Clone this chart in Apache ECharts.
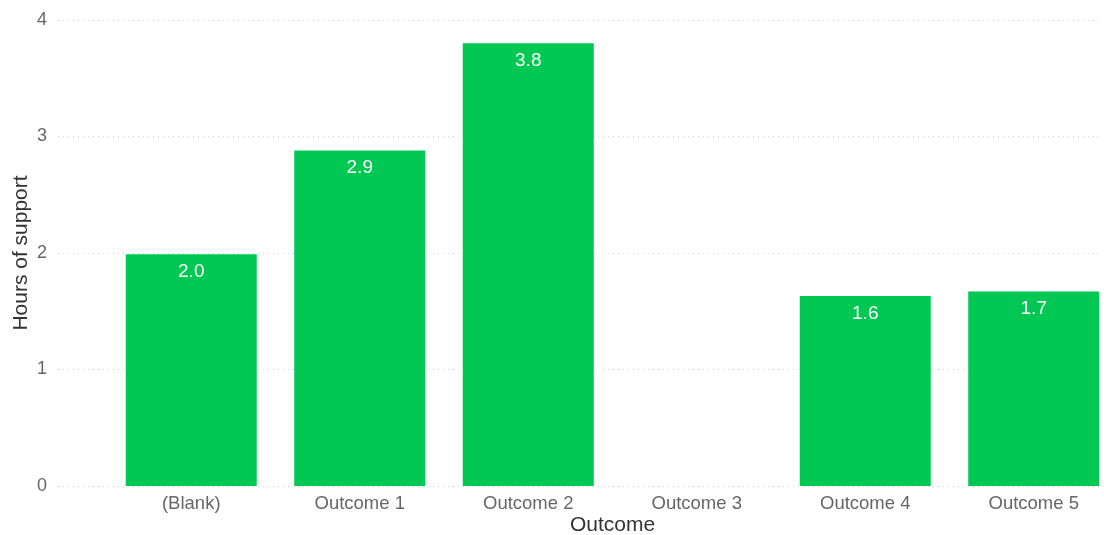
<!DOCTYPE html>
<html>
<head>
<meta charset="utf-8">
<script src="https://cdn.jsdelivr.net/npm/echarts@6/dist/echarts.min.js"></script>
<style>
  html, body { margin: 0; padding: 0; background: #fff; }
  #chart { width: 1104px; height: 535px; }
</style>
</head>
<body>
<div id="chart"></div>
<script>
// Average hours of support per outcome
const categories = ['(Blank)', 'Outcome 1', 'Outcome 2', 'Outcome 3', 'Outcome 4', 'Outcome 5'];
const hours = [1.99, 2.88, 3.80, null, 1.63, 1.67];
const yTicks = [0, 1, 2, 3, 4];

const FONT = '"Liberation Sans", Arial, sans-serif';
const chart = echarts.init(document.getElementById('chart'));

chart.setOption({
  animation: false,
  textStyle: { fontFamily: FONT },
  grid: [
    // background grid carrying the value axis and its gridlines
    { left: 58, right: 4, top: 20, bottom: 49, outerBoundsMode: 'none', containLabel: false },
    // plotting grid for the bars and category labels (runs past the right edge)
    { left: 107, width: 1011, top: 20, bottom: 49, outerBoundsMode: 'none', containLabel: false }
  ],
  xAxis: [
    { gridIndex: 0, type: 'value', min: 0, max: 1, show: false },
    {
      gridIndex: 1,
      type: 'category',
      data: categories,
      name: 'Outcome',
      nameLocation: 'middle',
      nameGap: 29,
      nameMoveOverlap: false,
      nameTextStyle: { color: '#333', fontSize: 21, fontFamily: FONT },
      axisLine: { show: false },
      axisTick: { show: false },
      axisLabel: { color: '#666', fontSize: 18.5, margin: 8, fontFamily: FONT }
    }
  ],
  yAxis: [
    {
      gridIndex: 0,
      type: 'value',
      min: yTicks[0],
      max: yTicks[yTicks.length - 1],
      interval: 1,
      name: 'Hours of support',
      nameLocation: 'middle',
      nameGap: 26,
      nameMoveOverlap: false,
      nameTextStyle: { color: '#333', fontSize: 21, fontFamily: FONT },
      axisLine: { show: false },
      axisTick: { show: false },
      axisLabel: { color: '#666', fontSize: 18, margin: 11, fontFamily: FONT },
      splitLine: { lineStyle: { color: '#d0d0d0', type: [1, 4], width: 1 } }
    },
    {
      gridIndex: 1,
      type: 'value',
      min: yTicks[0],
      max: yTicks[yTicks.length - 1],
      interval: 1,
      show: false,
      splitLine: { show: false }
    }
  ],
  series: [{
    type: 'bar',
    xAxisIndex: 1,
    yAxisIndex: 1,
    data: hours,
    barWidth: 131,
    itemStyle: { color: '#00C853' },
    label: {
      show: true,
      position: 'insideTop',
      distance: 8,
      color: '#fff',
      fontSize: 19,
      fontFamily: FONT,
      formatter: p => p.value == null ? '' : p.value.toFixed(1)
    }
  }]
});
</script>
</body>
</html>
